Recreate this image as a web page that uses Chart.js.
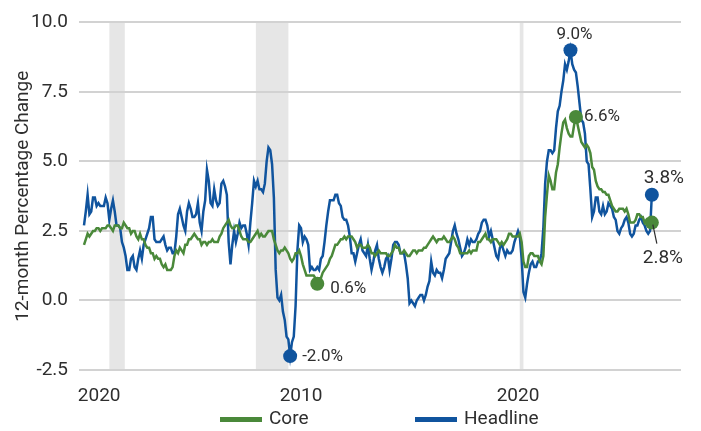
<!DOCTYPE html>
<html>
<head>
<meta charset="utf-8">
<script src="https://cdn.jsdelivr.net/npm/chart.js@4.4.1/dist/chart.umd.min.js"></script>
<style>
  html, body { margin: 0; padding: 0; background: #fff; }
  #wrap { width: 701px; height: 431px; }
</style>
</head>
<body>
<div id="wrap"><canvas id="myChart" width="701" height="431"></canvas></div>
<script>
// monthly data, Jan 2000 onward
const startYear = 2000;

const headline = [
  2.7, 3.2, 3.8, 3.1, 3.2, 3.7, 3.7, 3.4, 3.5, 3.4, 3.4, 3.4,
  3.7, 3.5, 2.9, 3.3, 3.6, 3.2, 2.7, 2.7, 2.6, 2.1, 1.9, 1.6,
  1.1, 1.1, 1.5, 1.6, 1.2, 1.1, 1.5, 1.8, 1.5, 2.0, 2.2, 2.4,
  2.6, 3.0, 3.0, 2.2, 2.1, 2.1, 2.1, 2.2, 2.3, 2.0, 1.8, 1.9,
  1.9, 1.7, 1.7, 2.3, 3.1, 3.3, 3.0, 2.7, 2.5, 3.2, 3.5, 3.3,
  3.0, 3.0, 3.1, 3.5, 2.8, 2.5, 3.2, 3.6, 4.7, 4.3, 3.5, 3.4,
  4.0, 3.6, 3.4, 3.5, 4.2, 4.3, 4.1, 3.8, 2.1, 1.3, 2.0, 2.5,
  2.1, 2.4, 2.8, 2.6, 2.7, 2.7, 2.4, 2.0, 2.8, 3.5, 4.3, 4.1,
  4.3, 4.0, 4.0, 3.9, 4.2, 5.0, 5.5, 5.4, 4.9, 3.7, 1.1, 0.1,
  0.0, 0.2, -0.4, -0.7, -1.3, -1.4, -2.0, -1.5, -1.3, -0.2, 1.8, 2.7,
  2.6, 2.1, 2.3, 2.2, 2.0, 1.1, 1.2, 1.1, 1.1, 1.2, 1.1, 1.5,
  1.6, 2.1, 2.7, 3.2, 3.6, 3.6, 3.6, 3.8, 3.8, 3.5, 3.4, 3.0,
  2.9, 2.9, 2.7, 2.3, 1.7, 1.7, 1.4, 1.7, 2.0, 2.2, 1.8, 1.7,
  1.6, 2.0, 1.5, 1.1, 1.4, 1.8, 2.0, 1.5, 1.2, 1.0, 1.2, 1.5,
  1.6, 1.1, 1.5, 2.0, 2.1, 2.1, 2.0, 1.7, 1.7, 1.7, 1.3, 0.8,
  -0.1, 0.0, -0.1, -0.2, 0.0, 0.1, 0.2, 0.2, 0.0, 0.2, 0.5, 0.7,
  1.4, 1.0, 0.9, 1.1, 1.0, 1.0, 0.8, 1.1, 1.5, 1.6, 1.7, 2.1,
  2.5, 2.7, 2.4, 2.2, 1.9, 1.6, 1.7, 1.9, 2.2, 2.0, 2.2, 2.1,
  2.1, 2.2, 2.4, 2.5, 2.8, 2.9, 2.9, 2.7, 2.3, 2.5, 2.2, 1.9,
  1.6, 1.5, 1.9, 2.0, 1.8, 1.6, 1.8, 1.7, 1.7, 1.8, 2.1, 2.3,
  2.5, 2.3, 1.5, 0.3, 0.1, 0.6, 1.0, 1.3, 1.4, 1.2, 1.2, 1.4,
  1.4, 1.7, 2.6, 4.2, 5.0, 5.4, 5.4, 5.3, 5.4, 6.2, 6.8, 7.0,
  7.5, 7.9, 8.5, 8.3, 8.6, 9.0, 8.5, 8.3, 8.2, 7.7, 7.1, 6.5,
  6.4, 6.0, 5.0, 4.9, 4.0, 3.0, 3.2, 3.7, 3.7, 3.2, 3.1, 3.4,
  3.1, 3.2, 3.5, 3.4, 3.3, 3.0, 2.9, 2.5, 2.4, 2.6, 2.7, 2.9,
  3.0, 2.8, 2.4, 2.3, 2.4, 2.7, 2.7, 2.9, 3.0, 2.8, 2.7, 2.5,
  2.4, 2.5, 3.8
];

const core = [
  2.0, 2.2, 2.4, 2.3, 2.4, 2.5, 2.5, 2.6, 2.6, 2.5, 2.6, 2.6,
  2.6, 2.7, 2.7, 2.6, 2.5, 2.7, 2.7, 2.7, 2.6, 2.6, 2.8, 2.7,
  2.6, 2.6, 2.4, 2.5, 2.5, 2.3, 2.2, 2.4, 2.2, 2.2, 2.0, 1.9,
  1.9, 1.7, 1.7, 1.5, 1.6, 1.5, 1.5, 1.3, 1.2, 1.3, 1.1, 1.1,
  1.1, 1.2, 1.6, 1.8, 1.7, 1.9, 1.8, 1.7, 2.0, 2.0, 2.2, 2.2,
  2.3, 2.4, 2.3, 2.2, 2.2, 2.0, 2.1, 2.1, 2.0, 2.1, 2.1, 2.2,
  2.1, 2.1, 2.1, 2.3, 2.4, 2.6, 2.7, 2.8, 2.9, 2.7, 2.6, 2.6,
  2.7, 2.7, 2.5, 2.3, 2.2, 2.2, 2.2, 2.1, 2.1, 2.2, 2.3, 2.4,
  2.5, 2.3, 2.4, 2.3, 2.3, 2.4, 2.5, 2.5, 2.5, 2.2, 2.0, 1.8,
  1.7, 1.8, 1.8, 1.9, 1.8, 1.7, 1.5, 1.4, 1.5, 1.7, 1.7, 1.8,
  1.6, 1.3, 1.1, 0.9, 0.9, 0.9, 0.9, 0.9, 0.8, 0.6, 0.8, 0.8,
  1.0, 1.1, 1.2, 1.3, 1.5, 1.6, 1.8, 2.0, 2.0, 2.1, 2.2, 2.2,
  2.3, 2.2, 2.3, 2.3, 2.3, 2.2, 2.1, 1.9, 2.0, 2.0, 1.9, 1.9,
  1.9, 2.0, 1.9, 1.7, 1.7, 1.6, 1.7, 1.8, 1.7, 1.7, 1.7, 1.7,
  1.6, 1.6, 1.7, 1.8, 2.0, 1.9, 1.9, 1.7, 1.7, 1.8, 1.7, 1.6,
  1.6, 1.7, 1.8, 1.8, 1.7, 1.8, 1.8, 1.8, 1.9, 1.9, 2.0, 2.1,
  2.2, 2.3, 2.2, 2.1, 2.2, 2.2, 2.2, 2.3, 2.2, 2.1, 2.1, 2.2,
  2.3, 2.2, 2.0, 1.9, 1.7, 1.7, 1.7, 1.7, 1.7, 1.8, 1.7, 1.8,
  1.8, 1.8, 2.1, 2.1, 2.2, 2.3, 2.4, 2.2, 2.2, 2.1, 2.2, 2.2,
  2.2, 2.1, 2.0, 2.1, 2.0, 2.1, 2.2, 2.4, 2.4, 2.3, 2.3, 2.3,
  2.3, 2.4, 2.1, 1.4, 1.2, 1.2, 1.6, 1.7, 1.7, 1.6, 1.6, 1.6,
  1.4, 1.3, 1.6, 3.0, 3.8, 4.5, 4.3, 4.0, 4.0, 4.6, 4.9, 5.5,
  6.0, 6.4, 6.5, 6.2, 6.0, 5.9, 5.9, 6.3, 6.6, 6.3, 6.0, 5.7,
  5.6, 5.5, 5.6, 5.5, 5.3, 4.8, 4.7, 4.3, 4.1, 4.0, 4.0, 3.9,
  3.9, 3.8, 3.8, 3.6, 3.4, 3.3, 3.2, 3.2, 3.3, 3.3, 3.3, 3.2,
  3.3, 3.1, 2.8, 2.8, 2.8, 2.9, 3.1, 3.1, 3.0, 3.0, 2.8, 2.9,
  2.8, 2.8, 2.8
];

// recessions (decimal years)
const recessionStart = [2001.17, 2007.92, 2020.08];
const recessionEnd = [2001.88, 2009.42, 2020.25];

// tick labels as printed on the chart
const xTickValues = [2000.7, 2010, 2020];
const xTickLabels = ['2020', '2010', '2020'];
const yTickValues = [-2.5, 0, 2.5, 5, 7.5, 10];

const FONT = 'Roboto, "Liberation Sans", sans-serif';
const TEXT = '#2e2e2e';
const BLUE = '#10549e';
const GREEN = '#4a893a';

const months = headline.map((_, i) => startYear + i / 12);
const toXY = arr => arr.map((v, i) => ({ x: months[i], y: v }));

function idxOf(arr, fn) {
  const target = fn(...arr);
  return arr.indexOf(target);
}
const hMax = idxOf(headline, Math.max);
const hMin = idxOf(headline, Math.min);
const cMax = idxOf(core, Math.max);
const cMin = idxOf(core, Math.min);
const hLast = headline.length - 1;
const cLast = core.length - 1;

function radii(arr, marks) {
  return arr.map((_, i) => marks.includes(i) ? 7 : 0);
}

// 라벨 (dataset index, point index, 글자, 위치)
const callouts = [
  { ds: 1, i: hMax, text: '9.0%', dx: 4, dy: -15, align: 'center', size: 17 },
  { ds: 0, i: cMax, text: '6.6%', dx: 8, dy: 0, align: 'left', size: 17 },
  { ds: 1, i: hMin, text: '-2.0%', dx: 12, dy: 1, align: 'left', size: 17 },
  { ds: 0, i: cMin, text: '0.6%', dx: 13, dy: 5, align: 'left', size: 17 },
  { ds: 1, i: hLast, text: '3.8%', dx: 12, dy: -17, align: 'center', size: 19 },
  { ds: 0, i: cLast, text: '2.8%', dx: 11, dy: 36, align: 'center', size: 19, leader: true }
];

const recessionPlugin = {
  id: 'recessions',
  beforeDraw(chart) {
    const { ctx, chartArea, scales: { x } } = chart;
    ctx.save();
    ctx.fillStyle = '#e6e6e6';
    for (let k = 0; k < recessionStart.length; k++) {
      const x0 = x.getPixelForValue(recessionStart[k]);
      const x1 = x.getPixelForValue(recessionEnd[k]);
      ctx.fillRect(x0, chartArea.top, x1 - x0, chartArea.bottom - chartArea.top);
    }
    ctx.restore();
  }
};

const calloutPlugin = {
  id: 'callouts',
  afterDatasetsDraw(chart) {
    const { ctx } = chart;
    ctx.save();
    ctx.fillStyle = TEXT;
    ctx.textBaseline = 'middle';
    callouts.forEach(c => {
      const pt = chart.getDatasetMeta(c.ds).data[c.i];
      ctx.font = c.size + 'px ' + FONT;
      ctx.textAlign = c.align;
      if (c.leader) {
        ctx.strokeStyle = TEXT;
        ctx.lineWidth = 1.2;
        ctx.beginPath();
        ctx.moveTo(pt.x + 1, pt.y + 2);
        ctx.lineTo(pt.x + 5, pt.y + 21);
        ctx.stroke();
      }
      ctx.fillText(c.text, pt.x + c.dx, pt.y + c.dy);
    });
    ctx.restore();
  }
};

// 범례
const legendPlugin = {
  id: 'bottomLegend',
  afterDraw(chart) {
    const { ctx } = chart;
    const starts = [220, 415];
    ctx.save();
    ctx.font = '19px ' + FONT;
    ctx.textBaseline = 'middle';
    ctx.textAlign = 'left';
    chart.data.datasets.forEach((ds, k) => {
      ctx.fillStyle = ds.borderColor;
      ctx.fillRect(starts[k], 417, 42, 5);
      ctx.fillStyle = TEXT;
      ctx.fillText(ds.label, starts[k] + 49, 419);
    });
    ctx.restore();
  }
};

const ctx = document.getElementById('myChart').getContext('2d');
const chart = new Chart(ctx, {
  type: 'line',
  data: {
    datasets: [{
      label: 'Core',
      data: toXY(core),
      borderColor: GREEN,
      backgroundColor: GREEN,
      pointBackgroundColor: GREEN,
      pointBorderWidth: 0,
      pointRadius: radii(core, [cMax, cMin, cLast]),
      borderWidth: 2.5,
      tension: 0
    }, {
      label: 'Headline',
      data: toXY(headline),
      borderColor: BLUE,
      backgroundColor: BLUE,
      pointBackgroundColor: BLUE,
      pointBorderWidth: 0,
      pointRadius: radii(headline, [hMax, hMin, hLast]),
      borderWidth: 2.5,
      tension: 0
    }]
  },
  options: {
    responsive: false,
    animation: false,
    devicePixelRatio: 1,
    layout: { padding: { top: 17, right: 20, bottom: 0, left: 0 } },
    plugins: {
      legend: { display: false },
      tooltip: { enabled: false }
    },
    scales: {
      x: {
        type: 'linear',
        min: 1999.77,
        max: 2027.51,
        grid: { display: false },
        border: { display: false },
        afterBuildTicks: s => { s.ticks = xTickValues.map(v => ({ value: v })); },
        afterFit: s => { s.height = 61; },
        ticks: {
          autoSkip: false,
          maxRotation: 0,
          padding: 7,
          color: TEXT,
          font: { family: FONT, size: 19 },
          callback: (v, i) => xTickLabels[i]
        }
      },
      y: {
        min: -2.5,
        max: 10,
        afterBuildTicks: s => { s.ticks = yTickValues.map(v => ({ value: v })); },
        afterFit: s => { s.width = 79; },
        grid: { color: '#d2d2d2', lineWidth: 2, drawTicks: false },
        border: { display: false },
        ticks: {
          padding: 11,
          color: TEXT,
          font: { family: FONT, size: 19 },
          callback: v => v.toFixed(1)
        },
        title: {
          display: true,
          text: '12-month Percentage Change',
          color: TEXT,
          font: { family: FONT, size: 19 },
          padding: { top: 12, bottom: 0 }
        }
      }
    }
  },
  plugins: [recessionPlugin, calloutPlugin, legendPlugin]
});
</script>
</body>
</html>
